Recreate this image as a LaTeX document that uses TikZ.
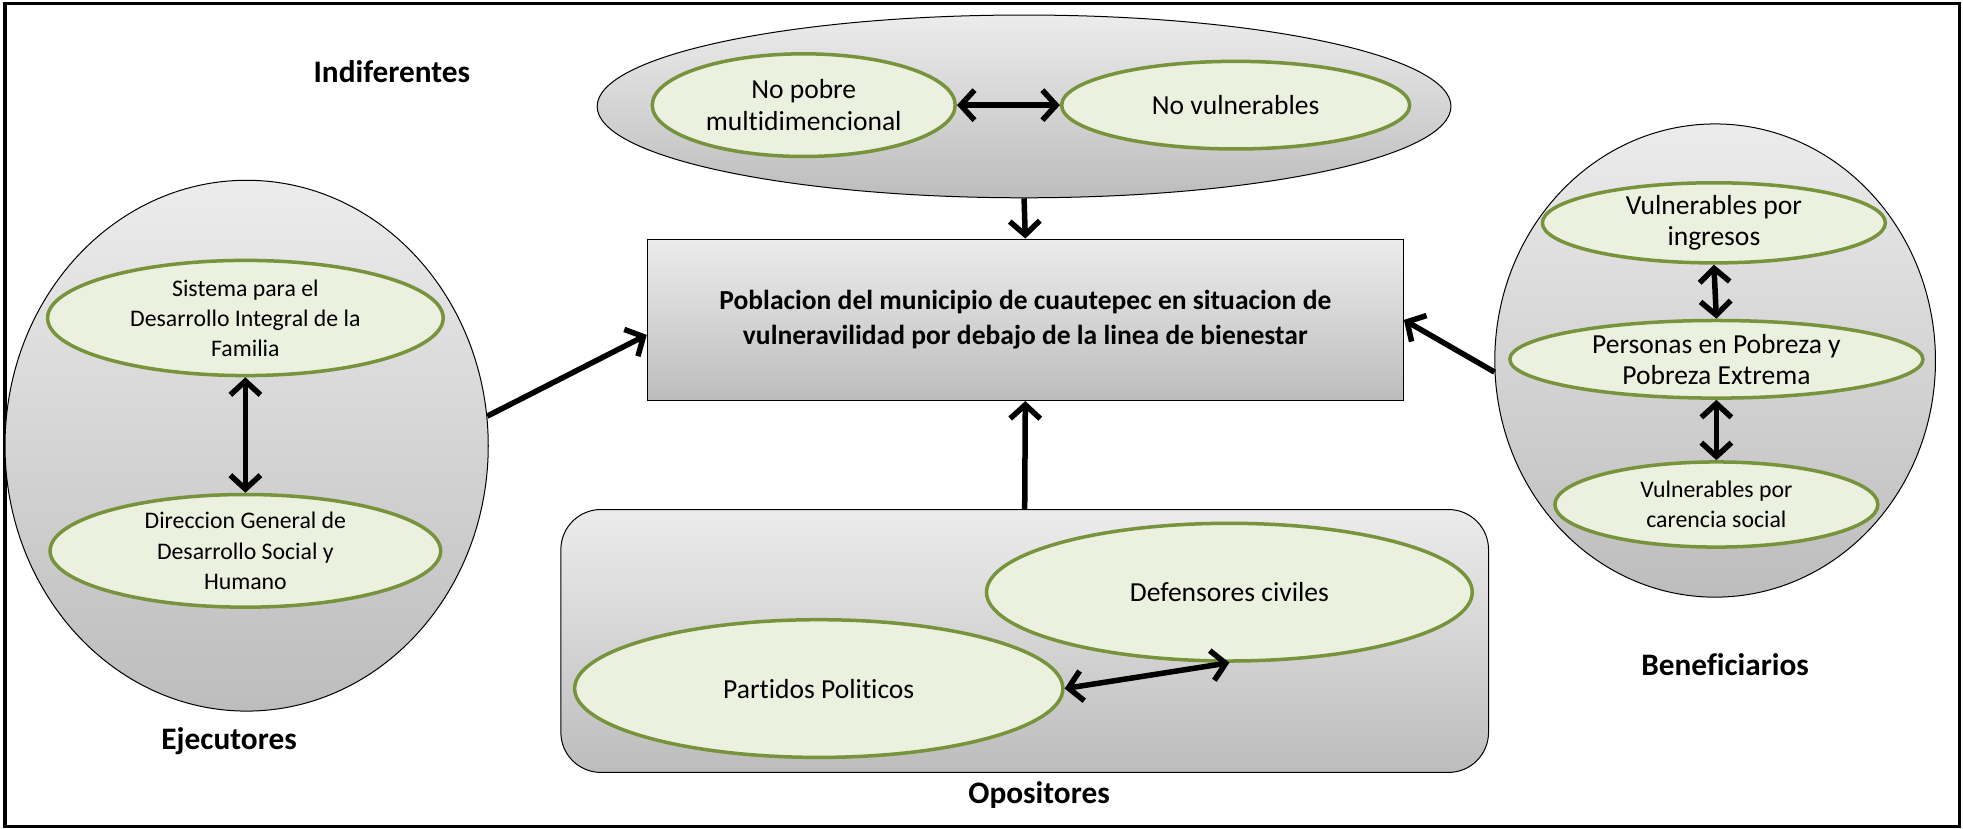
\documentclass[tikz,border=0pt]{standalone}
\usepackage{fontspec}
\setmainfont{Carlito}[Ligatures=NoCommon]
\usetikzlibrary{shapes.geometric,arrows.meta}

\definecolor{leafgreen}{HTML}{77933C}
\definecolor{leaffill}{HTML}{EBF1DE}

\tikzset{
    group/.style={draw=black, thin, top color=gray!15, bottom color=gray!52, inner sep=0pt},
    member/.style={ellipse, draw=leafgreen, line width=1.4pt, fill=leaffill, inner sep=-1pt, align=center, font=\fontsize{11}{12.5}\selectfont},
    small/.style={font=\fontsize{9.5}{12}\selectfont},
    flow/.style={line width=2.2pt, -{Straight Barb[length=5.5pt,width=12pt]}},
    swap/.style={line width=2.2pt, {Straight Barb[length=5.5pt,width=12pt]}-{Straight Barb[length=5.5pt,width=12pt]}},
    role/.style={font=\fontsize{12.5}{15}\selectfont\bfseries},
}

\begin{document}
\begin{tikzpicture}[x=0.5pt, y=-0.5pt]
        \useasboundingbox (0,0) rectangle (1568,662);
        \draw[line width=1.3pt] (4,3) rectangle (1565,660);

        % centro
        \node[group, draw, minimum width=302pt, minimum height=64.5pt, align=center,
              font=\fontsize{11}{14}\selectfont\bfseries] (pob) at (819,255.5)
              {Poblacion del municipio de cuautepec en situacion de\\vulneravilidad por debajo de la linea de bienestar};

        % indiferentes
        \node[group, ellipse, minimum width=341pt, minimum height=73pt] (ind) at (818,85) {};
        \node[member, minimum width=121pt, minimum height=41pt] (npm) at (642,84) {No pobre\\multidimencional};
        \node[member, minimum width=139pt, minimum height=35pt] (nvu) at (987,84) {No vulnerables};
        \node[role] (tind) at (313,57) {Indiferentes};

        % ejecutores
        \node[group, ellipse, minimum width=193pt, minimum height=212pt] (eje) at (197,356) {};
        \node[member, small, minimum width=158pt, minimum height=46pt] (dif) at (196,254) {Sistema para el\\Desarrollo Integral de la\\Familia};
        \node[member, small, minimum width=156pt, minimum height=45pt] (dgd) at (196,440) {Direccion General de\\Desarrollo Social y\\Humano};
        \node[role] (teje) at (183,592) {Ejecutores};

        % beneficiarios
        \node[group, ellipse, minimum width=176pt, minimum height=189pt] (ben) at (1370,288) {};
        \node[member, minimum width=137pt, minimum height=32pt] (vpi) at (1369,178) {Vulnerables por\\ingresos};
        \node[member, minimum width=165pt, minimum height=31pt] (ppe) at (1371,287) {Personas en Pobreza y\\Pobreza Extrema};
        \node[member, small, minimum width=129pt, minimum height=34pt] (vcs) at (1371,403) {Vulnerables por\\carencia social};
        \node[role] (tben) at (1378,531) {Beneficiarios};

        % opositores
        \node[group, draw, rounded corners=16pt, minimum width=370.5pt, minimum height=105pt] (opo) at (818.5,512) {};
        \node[member, minimum width=194pt, minimum height=55pt] (dci) at (982,473) {Defensores civiles};
        \node[member, minimum width=195pt, minimum height=55pt] (ppo) at (654,550) {Partidos Politicos};
        \node[role] (topo) at (830,635) {Opositores};

        \draw[flow] (ind.south) -- (pob.north);
        \draw[flow] (opo.north) -- (pob.south);
        \draw[flow] (eje.7) -- ([yshift=-6pt]pob.west);
        \draw[flow] (ben.183) -- (pob.east);

        \draw[swap] (npm.east) -- (nvu.west);
        \draw[swap] (dif.south) -- (dgd.north);
        \draw[swap] (vpi.south) -- (ppe.north);
        \draw[swap] (ppe.south) -- (vcs.north);
        \draw[swap] (ppo.east) -- (dci.south);
\end{tikzpicture}
\end{document}
